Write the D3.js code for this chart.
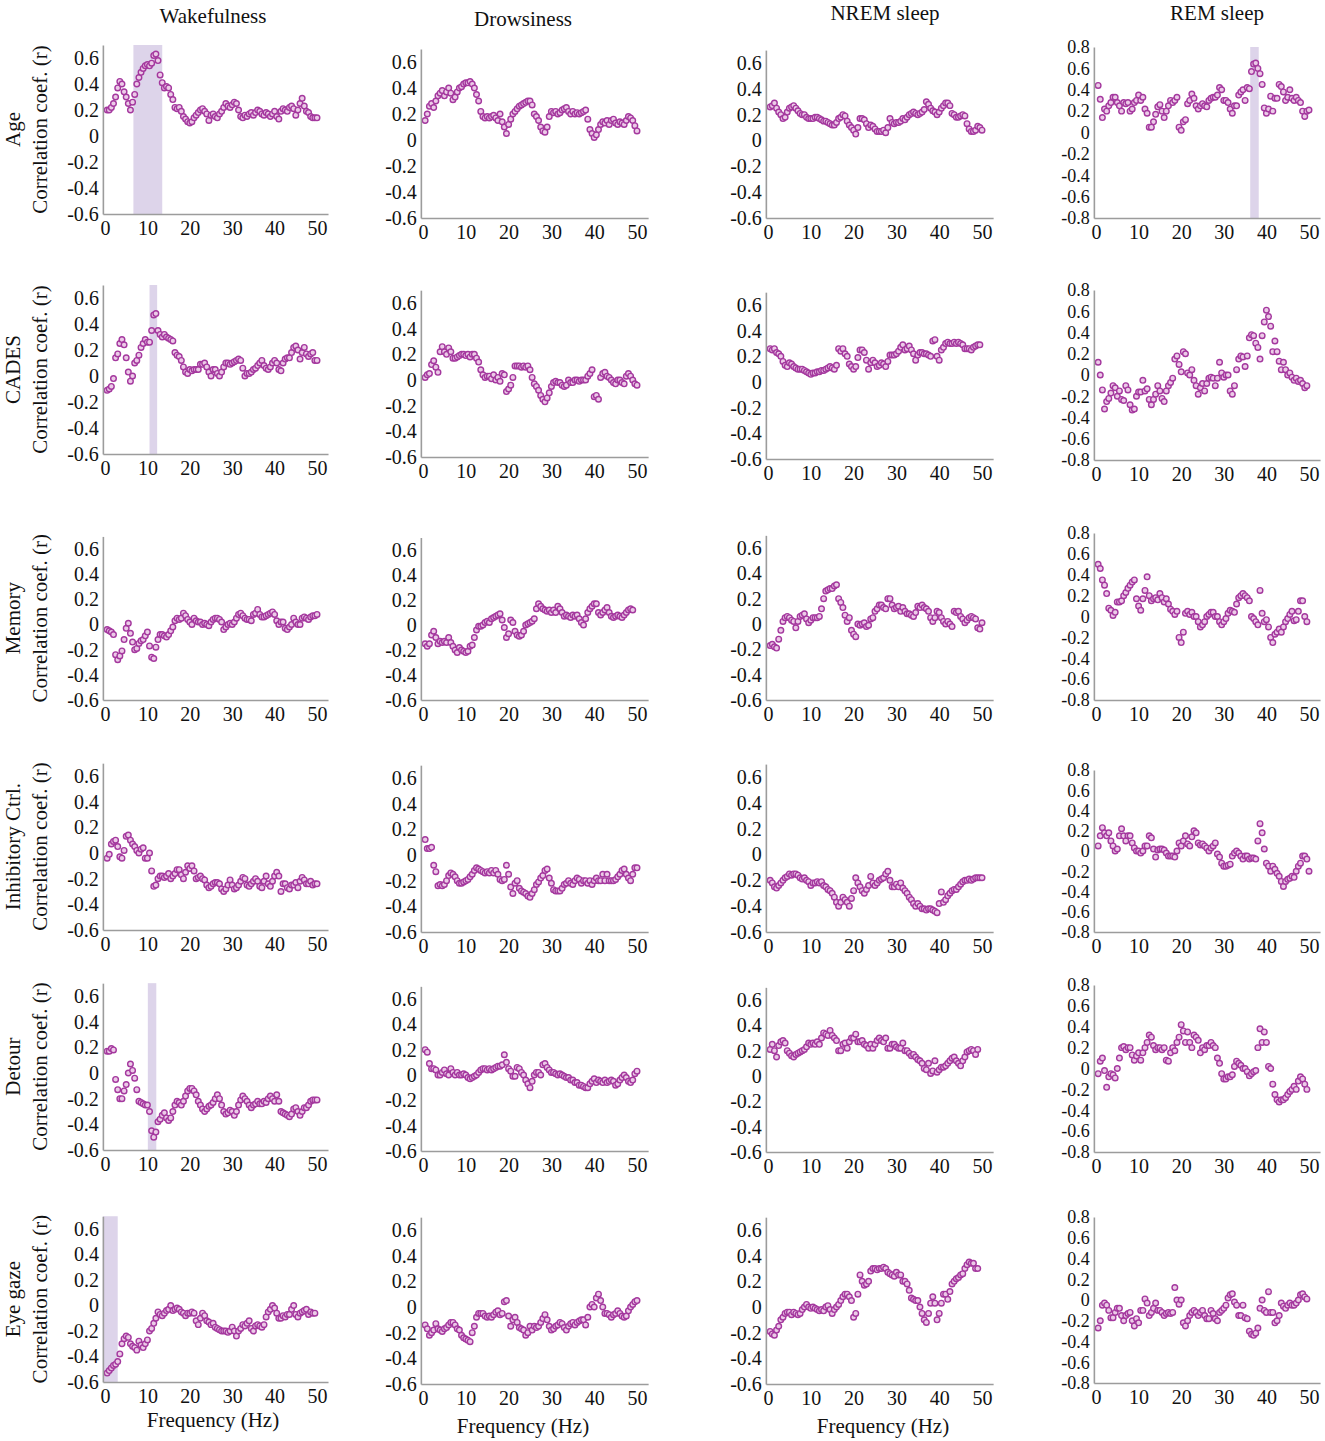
<!DOCTYPE html>
<html>
<head>
<meta charset="utf-8">
<script src="https://cdn.jsdelivr.net/npm/d3@7"></script>
<style>
  body { margin: 0; background: #fff; }
  svg text { font-family: "Liberation Serif", "Times New Roman", serif; fill: #111; }
</style>
</head>
<body>
<script>
// frequency grid (Hz), one value every 0.5 Hz
const freqs = d3.range(1, 101).map(i => i * 0.5);

const states = ["Wakefulness", "Drowsiness", "NREM sleep", "REM sleep"];
const measures = ["Age", "CADES", "Memory", "Inhibitory Ctrl.", "Detour", "Eye gaze"];
const ticksNarrow = [-0.6, -0.4, -0.2, 0, 0.2, 0.4, 0.6];
const ticksWide = [-0.8, -0.6, -0.4, -0.2, 0, 0.2, 0.4, 0.6, 0.8];
const xTicks = [0, 10, 20, 30, 40, 50];

// correlation coefficients
const ageWake = [
  0.20,0.20,0.22,0.25,0.30,0.37,0.42,0.40,0.34,0.30,
  0.25,0.20,0.26,0.32,0.40,0.45,0.49,0.52,0.54,0.55,
  0.54,0.56,0.62,0.63,0.58,0.47,0.41,0.37,0.38,0.37,
  0.32,0.28,0.22,0.21,0.22,0.19,0.15,0.13,0.11,0.10,
  0.11,0.14,0.16,0.18,0.20,0.21,0.19,0.17,0.12,0.16,
  0.17,0.15,0.14,0.17,0.19,0.22,0.25,0.23,0.22,0.24,
  0.26,0.25,0.20,0.15,0.14,0.16,0.15,0.17,0.18,0.16,
  0.18,0.20,0.19,0.17,0.16,0.18,0.17,0.15,0.17,0.19,
  0.15,0.13,0.19,0.21,0.20,0.19,0.22,0.23,0.21,0.16,
  0.20,0.25,0.29,0.23,0.19,0.18,0.15,0.14,0.14,0.14];
const ageDrowsy = [
  0.15,0.20,0.26,0.28,0.25,0.30,0.34,0.36,0.38,0.34,
  0.37,0.40,0.36,0.31,0.33,0.37,0.40,0.41,0.43,0.44,
  0.44,0.45,0.43,0.40,0.35,0.30,0.22,0.18,0.17,0.18,
  0.17,0.18,0.19,0.17,0.15,0.20,0.14,0.10,0.05,0.12,
  0.16,0.20,0.22,0.24,0.26,0.27,0.28,0.29,0.30,0.30,
  0.27,0.20,0.18,0.15,0.10,0.07,0.06,0.10,0.18,0.22,
  0.21,0.22,0.20,0.21,0.23,0.24,0.25,0.22,0.20,0.22,
  0.20,0.21,0.20,0.21,0.22,0.23,0.16,0.08,0.05,0.02,
  0.04,0.08,0.12,0.14,0.13,0.15,0.12,0.15,0.16,0.13,
  0.12,0.14,0.13,0.12,0.15,0.18,0.17,0.15,0.11,0.07];
const ageNrem = [
  0.26,0.27,0.29,0.25,0.22,0.20,0.17,0.18,0.22,0.25,
  0.26,0.27,0.25,0.23,0.21,0.20,0.20,0.18,0.17,0.17,
  0.17,0.18,0.18,0.17,0.16,0.15,0.15,0.14,0.13,0.12,
  0.12,0.14,0.17,0.18,0.20,0.19,0.15,0.12,0.10,0.08,
  0.05,0.10,0.17,0.17,0.16,0.13,0.10,0.12,0.11,0.09,
  0.07,0.07,0.07,0.08,0.06,0.10,0.17,0.14,0.13,0.14,
  0.14,0.15,0.17,0.16,0.18,0.20,0.21,0.22,0.21,0.20,
  0.21,0.22,0.24,0.30,0.28,0.25,0.23,0.22,0.20,0.22,
  0.25,0.27,0.29,0.29,0.27,0.21,0.20,0.18,0.18,0.19,
  0.20,0.19,0.13,0.09,0.07,0.07,0.08,0.11,0.10,0.08];
const ageRem = [
  0.44,0.31,0.14,0.22,0.20,0.25,0.28,0.33,0.33,0.28,
  0.25,0.20,0.28,0.27,0.28,0.20,0.22,0.28,0.30,0.35,
  0.30,0.33,0.22,0.18,0.05,0.05,0.10,0.17,0.24,0.26,
  0.20,0.14,0.20,0.25,0.30,0.28,0.30,0.33,0.05,0.02,
  0.10,0.12,0.27,0.30,0.36,0.32,0.25,0.22,0.25,0.27,
  0.25,0.24,0.30,0.32,0.33,0.33,0.35,0.42,0.40,0.30,
  0.30,0.28,0.22,0.18,0.25,0.25,0.35,0.38,0.40,0.30,
  0.42,0.41,0.57,0.64,0.65,0.60,0.55,0.45,0.23,0.18,
  0.22,0.34,0.20,0.32,0.32,0.45,0.43,0.38,0.30,0.33,
  0.40,0.32,0.30,0.33,0.30,0.28,0.20,0.15,0.20,0.21];

const cadesWake = [
  -0.11,-0.10,-0.08,-0.02,0.14,0.17,0.25,0.28,0.24,0.14,
  0.03,-0.04,0.00,0.10,0.12,0.16,0.22,0.25,0.28,0.26,
  0.26,0.35,0.47,0.48,0.35,0.32,0.30,0.32,0.30,0.29,
  0.28,0.27,0.18,0.16,0.15,0.12,0.07,0.03,0.02,0.05,
  0.04,0.05,0.05,0.05,0.09,0.09,0.10,0.07,0.03,0.00,
  0.05,0.05,0.02,0.00,0.03,0.07,0.10,0.10,0.09,0.10,
  0.11,0.12,0.13,0.12,0.06,0.00,0.02,0.02,0.03,0.05,
  0.06,0.08,0.10,0.12,0.08,0.06,0.05,0.07,0.10,0.12,
  0.10,0.05,0.04,0.10,0.13,0.14,0.14,0.18,0.22,0.23,
  0.20,0.13,0.18,0.22,0.17,0.15,0.17,0.18,0.12,0.12];
const cadesDrowsy = [
  0.02,0.04,0.05,0.12,0.15,0.10,0.06,0.22,0.26,0.22,
  0.20,0.25,0.22,0.17,0.17,0.18,0.19,0.20,0.20,0.19,
  0.20,0.18,0.20,0.20,0.17,0.14,0.08,0.04,0.02,0.03,
  0.03,0.01,0.04,0.00,0.02,-0.01,0.05,0.04,-0.09,-0.07,
  -0.04,0.02,0.11,0.11,0.11,0.10,0.11,0.10,0.11,0.08,
  0.02,-0.03,-0.05,-0.08,-0.12,-0.15,-0.17,-0.14,-0.10,-0.05,
  -0.02,-0.01,-0.02,-0.02,-0.04,-0.05,-0.04,0.00,-0.02,-0.02,
  0.00,0.00,-0.01,0.00,0.00,0.00,0.03,0.05,0.08,-0.13,
  -0.12,-0.15,0.02,0.05,0.06,0.03,0.02,0.00,-0.02,-0.03,
  0.00,0.00,-0.02,-0.03,0.03,0.05,0.03,0.00,-0.03,-0.04];
const cadesNrem = [
  0.26,0.25,0.26,0.23,0.22,0.20,0.16,0.13,0.12,0.15,
  0.14,0.12,0.11,0.10,0.10,0.10,0.09,0.08,0.07,0.06,
  0.07,0.07,0.08,0.08,0.09,0.09,0.10,0.11,0.12,0.11,
  0.10,0.13,0.26,0.24,0.26,0.22,0.20,0.14,0.12,0.10,
  0.12,0.19,0.25,0.25,0.23,0.17,0.10,0.15,0.17,0.15,
  0.12,0.13,0.15,0.14,0.12,0.16,0.21,0.21,0.21,0.22,
  0.24,0.27,0.29,0.25,0.26,0.28,0.25,0.22,0.17,0.21,
  0.23,0.23,0.22,0.22,0.21,0.20,0.32,0.33,0.20,0.17,
  0.25,0.27,0.30,0.31,0.30,0.30,0.31,0.30,0.31,0.30,
  0.29,0.26,0.26,0.26,0.25,0.27,0.28,0.29,0.29,null];
const cadesRem = [
  0.12,0.00,-0.14,-0.32,-0.25,-0.22,-0.17,-0.10,-0.12,-0.20,
  -0.15,-0.23,-0.24,-0.10,-0.14,-0.28,-0.33,-0.32,-0.20,-0.16,
  -0.16,-0.05,-0.15,-0.13,-0.23,-0.28,-0.23,-0.18,-0.10,-0.15,
  -0.22,-0.25,-0.15,-0.10,-0.07,-0.03,0.15,0.18,0.10,0.03,
  0.22,0.20,0.02,0.00,0.05,-0.05,-0.10,-0.18,-0.12,-0.08,
  -0.15,-0.08,-0.03,-0.02,-0.03,-0.10,-0.03,0.12,0.02,-0.02,
  0.00,0.00,-0.15,-0.18,-0.10,0.05,0.15,0.18,0.17,0.08,
  0.18,0.35,0.38,0.37,0.30,0.26,0.15,0.37,0.50,0.61,
  0.55,0.46,0.22,0.32,0.22,0.13,0.05,0.12,0.05,0.00,
  0.02,-0.02,-0.05,-0.03,-0.06,-0.05,-0.08,-0.12,-0.10,null];

const memoryWake = [
  -0.04,-0.05,-0.06,-0.08,-0.24,-0.28,-0.25,-0.21,-0.12,-0.03,
  0.01,-0.07,-0.14,-0.20,-0.19,-0.15,-0.13,-0.12,-0.09,-0.06,
  -0.17,-0.26,-0.27,-0.18,-0.12,-0.08,-0.08,-0.09,-0.10,-0.08,
  -0.05,-0.02,0.03,0.05,0.04,0.05,0.09,0.07,0.04,0.02,
  0.00,0.05,0.03,0.02,0.02,0.00,0.01,0.00,-0.01,0.02,
  0.04,0.05,0.05,0.04,0.02,-0.04,-0.02,0.00,0.01,0.00,
  0.02,0.05,0.08,0.09,0.07,0.05,0.04,0.04,0.03,0.08,
  0.09,0.12,0.08,0.06,0.06,0.07,0.08,0.09,0.10,0.08,
  0.03,0.00,0.02,0.02,-0.03,-0.04,-0.02,0.00,0.05,0.02,
  0.00,0.00,0.05,0.06,0.05,0.04,0.06,0.07,0.07,0.08];
const memoryDrowsy = [
  -0.15,-0.17,-0.15,-0.08,-0.05,-0.10,-0.15,-0.13,-0.14,-0.13,
  -0.14,-0.10,-0.14,-0.17,-0.20,-0.22,-0.18,-0.20,-0.21,-0.22,
  -0.21,-0.17,-0.16,-0.10,-0.04,-0.01,-0.01,0.00,0.02,0.03,
  0.02,0.05,0.06,0.07,0.08,0.09,0.04,-0.02,-0.10,-0.07,
  0.04,0.02,-0.05,-0.08,-0.09,-0.08,-0.05,0.00,0.01,0.02,
  0.03,0.05,0.13,0.17,0.15,0.13,0.12,0.11,0.12,0.10,
  0.12,0.10,0.15,0.13,0.10,0.07,0.08,0.07,0.06,0.08,
  0.07,0.08,0.05,0.02,0.00,0.05,0.10,0.13,0.15,0.17,
  0.17,0.10,0.08,0.10,0.12,0.14,0.10,0.07,0.06,0.07,
  0.08,0.07,0.06,0.08,0.10,0.12,0.13,0.12,null,null];
const memoryNrem = [
  -0.17,-0.16,-0.18,-0.19,-0.12,-0.05,0.02,0.05,0.06,0.05,
  0.03,0.02,-0.03,0.02,0.06,0.07,0.08,0.04,0.01,0.03,
  0.05,0.05,0.05,0.06,0.12,0.20,0.26,0.27,0.28,0.28,
  0.30,0.31,0.20,0.17,0.13,0.07,0.02,0.05,-0.05,-0.08,
  -0.10,0.00,-0.01,0.00,0.01,-0.02,-0.01,0.04,0.05,0.10,
  0.12,0.15,0.15,0.13,0.12,0.20,0.20,0.15,0.12,0.13,
  0.14,0.10,0.13,0.10,0.08,0.08,0.07,0.06,0.09,0.14,
  0.13,0.15,0.13,0.12,0.10,0.05,0.02,0.05,0.10,0.09,
  0.05,0.02,0.00,0.02,0.00,-0.02,0.10,0.09,0.10,0.06,
  0.04,0.01,0.03,0.05,0.06,0.05,0.04,-0.03,-0.04,0.01];
const memoryRem = [
  0.50,0.46,0.35,0.30,0.22,0.08,0.06,0.01,0.04,0.14,
  0.14,0.15,0.20,0.23,0.27,0.30,0.33,0.35,0.17,0.10,
  0.06,0.17,0.25,0.38,0.20,0.15,0.17,0.18,0.16,0.22,
  0.18,0.14,0.17,0.12,0.07,0.05,0.02,0.05,-0.20,-0.25,
  -0.15,0.03,0.05,0.02,0.04,0.00,0.00,-0.05,-0.10,-0.08,
  -0.05,0.00,0.02,0.04,0.04,0.00,0.00,-0.05,-0.08,-0.05,
  -0.02,0.03,0.06,0.05,0.04,0.12,0.18,0.20,0.22,0.20,
  0.18,0.15,0.00,-0.02,-0.05,-0.08,0.25,0.03,-0.05,-0.03,
  -0.10,-0.20,-0.25,-0.17,-0.15,-0.12,-0.15,-0.10,-0.05,-0.02,
  0.02,0.05,-0.04,-0.03,0.05,0.15,0.15,0.00,-0.05,null];

const inhibWake = [
  -0.04,-0.01,0.07,0.09,0.10,0.05,-0.03,-0.04,0.02,0.13,
  0.14,0.10,0.07,0.05,0.02,0.00,0.03,0.04,-0.04,-0.04,
  0.00,-0.14,-0.26,-0.25,-0.20,-0.18,-0.18,-0.19,-0.18,-0.16,
  -0.20,-0.18,-0.16,-0.13,-0.13,-0.17,-0.20,-0.15,-0.10,-0.12,
  -0.10,-0.14,-0.20,-0.19,-0.18,-0.20,-0.21,-0.25,-0.27,-0.26,
  -0.24,-0.23,-0.23,-0.24,-0.28,-0.30,-0.28,-0.25,-0.21,-0.25,
  -0.28,-0.27,-0.25,-0.22,-0.19,-0.20,-0.25,-0.26,-0.24,-0.22,
  -0.20,-0.22,-0.26,-0.27,-0.22,-0.18,-0.24,-0.26,-0.22,-0.18,
  -0.15,-0.18,-0.30,-0.24,-0.24,-0.27,-0.28,-0.25,-0.25,-0.23,
  -0.27,-0.22,-0.19,-0.21,-0.24,-0.24,-0.22,-0.25,-0.24,-0.24];
const inhibDrowsy = [
  0.12,0.05,0.05,0.06,-0.08,-0.13,-0.24,-0.23,-0.24,-0.23,
  -0.20,-0.16,-0.14,-0.15,-0.17,-0.20,-0.22,-0.22,-0.21,-0.20,
  -0.19,-0.17,-0.15,-0.12,-0.10,-0.11,-0.12,-0.13,-0.14,-0.13,
  -0.14,-0.12,-0.14,-0.12,-0.15,-0.19,-0.20,-0.19,-0.08,-0.15,
  -0.25,-0.30,-0.22,-0.20,-0.26,-0.28,-0.29,-0.30,-0.32,-0.33,
  -0.30,-0.27,-0.23,-0.21,-0.18,-0.16,-0.12,-0.11,-0.18,-0.22,
  -0.27,-0.28,-0.28,-0.28,-0.26,-0.23,-0.22,-0.20,-0.22,-0.23,
  -0.20,-0.18,-0.19,-0.22,-0.20,-0.20,-0.22,-0.20,-0.23,-0.20,
  -0.18,-0.20,-0.20,-0.15,-0.20,-0.15,-0.20,-0.20,-0.20,-0.19,
  -0.17,-0.15,-0.12,-0.11,-0.15,-0.18,-0.20,-0.15,-0.10,-0.10];
const inhibNrem = [
  -0.20,-0.22,-0.25,-0.26,-0.24,-0.22,-0.20,-0.18,-0.17,-0.15,
  -0.16,-0.15,-0.15,-0.16,-0.18,-0.19,-0.18,-0.20,-0.21,-0.24,
  -0.22,-0.22,-0.21,-0.22,-0.21,-0.24,-0.25,-0.27,-0.28,-0.30,
  -0.33,-0.37,-0.40,-0.37,-0.33,-0.35,-0.37,-0.40,-0.34,-0.28,
  -0.18,-0.22,-0.25,-0.28,-0.30,-0.27,-0.24,-0.17,-0.22,-0.24,
  -0.22,-0.20,-0.19,-0.18,-0.15,-0.13,-0.20,-0.25,-0.25,-0.23,
  -0.25,-0.22,-0.26,-0.28,-0.30,-0.33,-0.35,-0.38,-0.40,-0.38,
  -0.40,-0.42,-0.42,-0.43,-0.42,-0.42,-0.43,-0.44,-0.45,-0.38,
  -0.29,-0.37,-0.35,-0.32,-0.30,-0.28,-0.27,-0.27,-0.25,-0.23,
  -0.21,-0.20,-0.20,-0.19,-0.20,-0.19,-0.18,-0.18,-0.18,-0.18];
const inhibRem = [
  0.05,0.15,0.23,0.18,0.15,0.18,0.10,0.05,0.00,0.02,
  0.15,0.22,0.15,0.10,0.15,0.15,0.08,0.03,0.00,0.00,
  -0.02,0.00,0.05,0.05,0.15,0.13,0.02,-0.06,0.01,0.02,
  0.02,0.01,-0.02,-0.05,-0.05,-0.05,-0.06,0.00,0.08,0.05,
  0.10,0.15,0.07,0.05,0.14,0.20,0.18,0.08,0.06,0.07,
  0.05,0.03,0.00,0.03,0.05,0.08,-0.03,-0.06,-0.12,-0.15,
  -0.15,-0.14,-0.13,-0.05,-0.02,0.00,-0.02,-0.05,-0.08,-0.05,
  -0.05,-0.08,-0.07,-0.07,-0.08,0.10,0.27,0.18,0.02,-0.12,
  -0.15,-0.20,-0.15,-0.18,-0.22,-0.25,-0.30,-0.35,-0.30,-0.28,
  -0.27,-0.25,-0.26,-0.20,-0.15,-0.12,-0.05,-0.05,-0.08,-0.20];

const detourWake = [
  0.17,0.17,0.19,0.18,-0.05,-0.13,-0.20,-0.20,-0.14,-0.09,
  0.00,0.07,0.02,-0.04,-0.13,-0.22,-0.23,-0.24,-0.25,-0.25,
  -0.30,-0.45,-0.50,-0.46,-0.38,-0.36,-0.33,-0.31,-0.35,-0.37,
  -0.35,-0.30,-0.25,-0.22,-0.23,-0.25,-0.22,-0.18,-0.14,-0.12,
  -0.12,-0.14,-0.17,-0.22,-0.25,-0.28,-0.30,-0.28,-0.26,-0.25,
  -0.23,-0.20,-0.17,-0.20,-0.25,-0.30,-0.32,-0.31,-0.29,-0.30,
  -0.33,-0.30,-0.25,-0.21,-0.18,-0.20,-0.22,-0.25,-0.27,-0.25,
  -0.24,-0.22,-0.24,-0.24,-0.22,-0.23,-0.20,-0.18,-0.20,-0.22,
  -0.17,-0.22,-0.30,-0.31,-0.32,-0.33,-0.34,-0.32,-0.28,-0.27,
  -0.30,-0.33,-0.30,-0.27,-0.27,-0.25,-0.22,-0.21,-0.21,-0.21];
const detourDrowsy = [
  0.20,0.18,0.09,0.05,0.05,0.04,0.00,0.00,0.02,0.04,
  0.01,0.00,0.05,0.02,0.00,0.02,0.00,0.00,0.01,0.00,
  -0.02,-0.03,-0.02,-0.01,0.00,0.02,0.04,0.05,0.05,0.04,
  0.05,0.04,0.05,0.06,0.07,0.07,0.08,0.16,0.10,0.05,
  0.03,-0.01,-0.01,0.06,0.05,0.02,0.00,-0.04,-0.07,-0.10,
  -0.05,0.00,0.02,0.02,0.00,0.08,0.09,0.06,0.04,0.02,
  0.02,0.01,0.00,0.01,0.00,-0.01,-0.02,-0.02,-0.04,-0.04,
  -0.06,-0.06,-0.08,-0.08,-0.09,-0.10,-0.10,-0.07,-0.05,-0.03,
  -0.06,-0.04,-0.05,-0.06,-0.04,-0.06,-0.05,-0.04,-0.05,-0.08,
  -0.07,-0.04,-0.02,0.00,-0.02,-0.05,-0.06,-0.04,0.01,0.03];
const detourNrem = [
  0.21,0.25,0.20,0.15,0.24,0.27,0.28,0.26,0.20,0.18,
  0.16,0.15,0.17,0.18,0.19,0.20,0.21,0.23,0.26,0.25,
  0.26,0.25,0.27,0.25,0.30,0.34,0.33,0.32,0.36,0.32,
  0.30,0.28,0.20,0.20,0.25,0.26,0.22,0.27,0.30,0.30,
  0.33,0.27,0.27,0.28,0.25,0.24,0.22,0.25,0.22,0.25,
  0.28,0.30,0.28,0.27,0.30,0.22,0.22,0.25,0.25,0.23,
  0.22,0.22,0.26,0.20,0.20,0.18,0.16,0.17,0.15,0.13,
  0.12,0.10,0.06,0.05,0.10,0.02,0.04,0.12,0.03,0.05,
  0.07,0.07,0.08,0.10,0.12,0.14,0.15,0.12,0.10,0.08,
  0.12,0.15,0.19,0.20,0.21,0.20,0.17,0.21,null,null];
const detourRem = [
  -0.05,0.07,0.10,-0.02,-0.18,-0.08,-0.05,-0.06,-0.09,0.00,
  0.10,0.20,0.21,0.18,0.20,0.20,0.13,0.08,0.12,0.15,
  0.08,0.15,0.20,0.25,0.32,0.30,0.22,0.18,0.20,0.20,
  0.18,0.20,0.08,0.07,0.15,0.20,0.17,0.25,0.30,0.42,
  0.36,0.25,0.35,0.25,0.20,0.32,0.30,0.27,0.15,0.20,
  0.18,0.22,0.22,0.25,0.22,0.20,0.10,0.05,-0.05,-0.10,
  -0.10,-0.08,-0.08,-0.06,0.02,0.07,0.05,0.03,0.00,0.00,
  -0.03,-0.07,-0.05,-0.03,-0.02,0.20,0.38,0.25,0.35,0.25,
  0.02,0.00,-0.15,-0.25,-0.30,-0.32,-0.30,-0.30,-0.28,-0.25,
  -0.22,-0.20,-0.17,-0.20,-0.12,-0.08,-0.10,-0.15,-0.20,null];

const gazeWake = [
  -0.53,-0.51,-0.49,-0.47,-0.46,-0.44,-0.38,-0.30,-0.26,-0.24,
  -0.25,-0.30,-0.32,-0.33,-0.35,-0.28,-0.31,-0.33,-0.30,-0.27,
  -0.20,-0.18,-0.14,-0.10,-0.05,-0.07,-0.08,-0.06,-0.04,-0.03,
  0.00,-0.04,-0.03,-0.02,-0.03,-0.05,-0.06,-0.08,-0.06,-0.06,
  -0.05,-0.06,-0.12,-0.15,-0.10,-0.06,-0.08,-0.12,-0.13,-0.15,
  -0.14,-0.17,-0.18,-0.19,-0.20,-0.20,-0.20,-0.21,-0.20,-0.17,
  -0.20,-0.24,-0.20,-0.18,-0.15,-0.16,-0.14,-0.12,-0.18,-0.20,
  -0.16,-0.15,-0.16,-0.17,-0.15,-0.09,-0.05,-0.03,0.00,-0.02,
  -0.06,-0.10,-0.10,-0.08,-0.09,-0.07,-0.07,-0.03,0.00,-0.07,
  -0.09,-0.06,-0.05,-0.04,-0.03,-0.07,-0.05,-0.06,-0.06,null];
const gazeDrowsy = [
  -0.14,-0.17,-0.22,-0.20,-0.18,-0.13,-0.17,-0.18,-0.19,-0.17,
  -0.16,-0.14,-0.12,-0.12,-0.14,-0.17,-0.18,-0.22,-0.24,-0.25,
  -0.26,-0.27,-0.20,-0.15,-0.08,-0.05,-0.05,-0.05,-0.07,-0.08,
  -0.07,-0.08,-0.06,-0.04,-0.03,-0.06,-0.05,0.04,0.05,-0.07,
  -0.15,-0.10,-0.08,-0.12,-0.16,-0.17,-0.18,-0.22,-0.20,-0.15,
  -0.18,-0.15,-0.16,-0.15,-0.12,-0.09,-0.06,-0.10,-0.15,-0.18,
  -0.17,-0.15,-0.14,-0.12,-0.13,-0.16,-0.18,-0.15,-0.13,-0.12,
  -0.14,-0.12,-0.11,-0.10,-0.10,-0.14,-0.08,0.00,0.02,0.00,
  0.07,0.10,0.05,0.00,-0.05,-0.05,-0.06,-0.08,-0.06,-0.05,
  -0.03,-0.05,-0.07,-0.08,-0.07,-0.03,0.00,0.02,0.04,0.05];
const gazeNrem = [
  -0.19,-0.21,-0.22,-0.18,-0.15,-0.10,-0.08,-0.05,-0.04,-0.04,
  -0.06,-0.04,-0.05,-0.06,-0.05,-0.02,0.00,0.02,0.00,-0.01,
  0.00,-0.01,-0.02,-0.03,-0.02,-0.03,0.00,0.01,-0.02,-0.05,
  -0.02,0.00,0.02,0.05,0.08,0.10,0.10,0.08,0.05,-0.08,
  -0.05,0.10,0.25,0.20,0.17,0.18,0.20,0.28,0.30,0.30,
  0.29,0.30,0.30,0.31,0.30,0.27,0.26,0.25,0.24,0.27,
  0.25,0.25,0.20,0.20,0.18,0.13,0.07,0.06,0.05,0.05,
  0.00,-0.05,-0.10,-0.12,-0.05,0.03,0.08,0.03,-0.10,-0.05,
  0.03,0.10,0.10,0.06,0.12,0.18,0.20,0.22,0.23,0.25,
  0.26,0.30,0.33,0.35,0.34,0.34,0.30,0.30,null,null];
const gazeRem = [
  -0.27,-0.20,-0.05,-0.03,-0.05,-0.10,-0.17,-0.17,-0.12,-0.08,
  -0.08,-0.15,-0.20,-0.15,-0.13,-0.12,-0.20,-0.25,-0.18,-0.22,
  -0.10,-0.10,0.01,-0.03,-0.15,-0.12,-0.08,-0.03,-0.10,-0.10,
  -0.12,-0.15,-0.13,-0.12,-0.13,-0.12,0.12,0.00,-0.04,0.00,
  -0.22,-0.25,-0.20,-0.15,-0.12,-0.10,-0.12,-0.15,-0.12,-0.10,
  -0.15,-0.18,-0.18,-0.10,-0.13,-0.18,-0.20,-0.12,-0.10,-0.08,
  -0.05,0.02,0.05,0.06,-0.02,-0.05,-0.15,-0.15,-0.05,-0.17,
  -0.18,-0.30,-0.33,-0.34,-0.32,-0.27,-0.08,0.00,-0.10,-0.12,
  0.08,-0.12,-0.12,-0.22,-0.20,-0.15,-0.03,-0.06,-0.08,-0.05,
  -0.03,-0.05,-0.05,-0.03,0.00,0.05,0.06,0.03,0.01,null];

const grid = [
  [ageWake, ageDrowsy, ageNrem, ageRem],
  [cadesWake, cadesDrowsy, cadesNrem, cadesRem],
  [memoryWake, memoryDrowsy, memoryNrem, memoryRem],
  [inhibWake, inhibDrowsy, inhibNrem, inhibRem],
  [detourWake, detourDrowsy, detourNrem, detourRem],
  [gazeWake, gazeDrowsy, gazeNrem, gazeRem]
];

// significant frequency bands (shaded): [row, col, from Hz, to Hz]
const bands = [
  [0, 0, 6.7, 13.5],
  [0, 3, 36.2, 38.2],
  [1, 0, 10.5, 12.3],
  [4, 0, 10.1, 12.1],
  [5, 0, -0.5, 3.0]
];

// ---- layout (pixels) ----
const width = 1325, height = 1441;
const colX = [[105, 317], [423, 637], [768, 982], [1096, 1309]];   // x of 0 Hz and 50 Hz
// y of top tick (0.6, or 0.8 in REM column) and bottom tick per row/column
const panelY = [
  [[58, 214], [62, 218], [63, 218], [47, 218]],
  [[298, 454], [303, 457], [305, 459], [290, 460]],
  [[549, 700], [550, 700], [548, 700], [533, 700]],
  [[776, 930], [778, 932], [777, 932], [770, 932]],
  [[996, 1150], [999, 1151], [1000, 1152], [985, 1152]],
  [[1229, 1382], [1230, 1384], [1230, 1384], [1217, 1383]]
];
const titlePos = [[213, 16], [523, 19], [885, 13], [1217, 13]];
const xLabelPos = [[213, 1420], [523, 1426], [883, 1426]];

const svg = d3.select("body").append("svg")
  .attr("width", width)
  .attr("height", height);

const fmt = d => Math.abs(d) < 1e-9 ? "0" : d.toFixed(1);

states.forEach((s, c) => {
  svg.append("text")
    .attr("x", titlePos[c][0])
    .attr("y", titlePos[c][1])
    .attr("text-anchor", "middle")
    .attr("dominant-baseline", "central")
    .style("font-size", "21px")
    .text(s);
});

grid.forEach((rowSeries, r) => {
  rowSeries.forEach((values, c) => {
    const rem = c === 3;
    const top = rem ? 0.8 : 0.6;
    const [yTop, yBot] = panelY[r][c];
    const x = d3.scaleLinear().domain([0, 50]).range(colX[c]);
    const y = d3.scaleLinear().domain([-top, top]).range([yBot, yTop]);
    const axisTop = rem ? 0.8 : 0.7;
    const g = svg.append("g").attr("class", "panel");

    // shaded bands
    bands.filter(b => b[0] === r && b[1] === c).forEach(b => {
      g.append("rect")
        .attr("x", x(b[2]))
        .attr("y", y(axisTop))
        .attr("width", x(b[3]) - x(b[2]))
        .attr("height", y(-top) - y(axisTop))
        .attr("fill", "#ddd4ea");
    });

    const pts = freqs.map((f, i) => ({ f, v: values[i] })).filter(d => d.v !== null && d.v !== undefined);
    g.selectAll("circle")
      .data(pts)
      .enter()
      .append("circle")
      .attr("cx", d => x(d.f))
      .attr("cy", d => y(d.v))
      .attr("r", 2.8)
      .attr("fill", "#eccbe8")
      .attr("stroke", "#a4389e")
      .attr("stroke-width", 1.4);

    // y axis
    const yAxisScale = y.copy().domain([-top, axisTop]).range([yBot, y(axisTop)]);
    const ya = g.append("g")
      .attr("transform", "translate(" + x(-0.5) + ",0)")
      .call(d3.axisLeft(yAxisScale)
        .tickValues(rem ? ticksWide : ticksNarrow)
        .tickFormat(fmt)
        .tickSize(0)
        .tickSizeOuter(0)
        .tickPadding(4));

    // x axis
    const xAxisScale = x.copy().domain([-0.5, 52.6]).range([x(-0.5), x(52.6)]);
    const xa = g.append("g")
      .attr("transform", "translate(0," + yBot + ")")
      .call(d3.axisBottom(xAxisScale)
        .tickValues(xTicks)
        .tickFormat(d3.format("d"))
        .tickSize(0)
        .tickSizeOuter(0)
        .tickPadding(7));

    [ya, xa].forEach(a => {
      a.select(".domain").attr("stroke", "#9c9c9c").attr("stroke-width", 1.6);
      a.selectAll("text")
        .style("font-family", "'Liberation Serif', 'Times New Roman', serif")
        .style("font-size", "20px")
        .attr("fill", "#111");
    });
    if (rem) ya.selectAll("text").style("font-size", "18px");

    if (c === 0) {
      const cy = (y(axisTop) + yBot) / 2;
      svg.append("text")
        .attr("transform", "translate(13," + cy + ") rotate(-90)")
        .attr("text-anchor", "middle")
        .attr("dominant-baseline", "central")
        .style("font-size", "21px")
        .text(measures[r]);
      svg.append("text")
        .attr("transform", "translate(40," + cy + ") rotate(-90)")
        .attr("text-anchor", "middle")
        .attr("dominant-baseline", "central")
        .style("font-size", "21px")
        .text("Correlation coef. (r)");
    }

    if (r === grid.length - 1 && c < 3) {
      svg.append("text")
        .attr("x", xLabelPos[c][0])
        .attr("y", xLabelPos[c][1])
        .attr("text-anchor", "middle")
        .attr("dominant-baseline", "central")
        .style("font-size", "21px")
        .text("Frequency (Hz)");
    }
  });
});
</script>
</body>
</html>
